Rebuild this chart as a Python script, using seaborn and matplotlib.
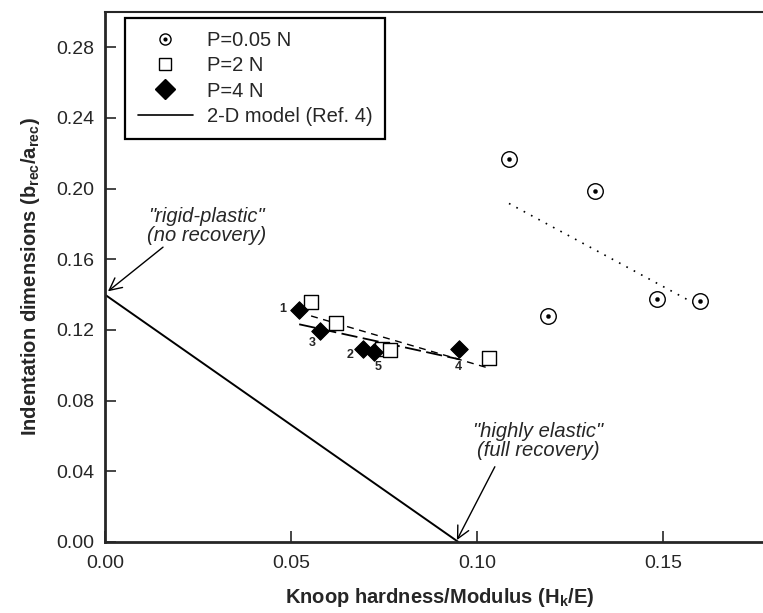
import numpy as np
import pandas as pd
import matplotlib
matplotlib.use("Agg")
import matplotlib.pyplot as plt
from matplotlib.lines import Line2D
from matplotlib.legend_handler import HandlerTuple
import seaborn as sns

# values
x_p005 = [0.1086, 0.1317, 0.1191, 0.1484, 0.1599]
y_p005 = [0.2168, 0.1986, 0.1277, 0.1373, 0.1362]

x_p2 = [0.0554, 0.0621, 0.0745, 0.0766, 0.1032]
y_p2 = [0.1356, 0.1237, 0.1095, 0.1084, 0.1039]

x_p4 = [0.0522, 0.0578, 0.0694, 0.0723, 0.0952]
y_p4 = [0.1311, 0.1197, 0.1095, 0.1073, 0.1090]
sample_ids = ["1", "3", "2", "5", "4"]

model_x = [0.0, 0.095]
model_y = [0.14, 0.0]

xticks = [0.00, 0.05, 0.10, 0.15]
yticks = [0.00, 0.04, 0.08, 0.12, 0.16, 0.20, 0.24, 0.28]

df005 = pd.DataFrame({"x": x_p005, "y": y_p005})
df2 = pd.DataFrame({"x": x_p2, "y": y_p2})
df4 = pd.DataFrame({"x": x_p4, "y": y_p4, "id": sample_ids})

sns.set_style("ticks")
plt.rcParams["font.family"] = ["Liberation Sans", "DejaVu Sans"]
plt.rcParams["mathtext.fontset"] = "custom"
plt.rcParams["mathtext.rm"] = "Liberation Sans:bold"
plt.rcParams["mathtext.it"] = "Liberation Sans:bold"
plt.rcParams["mathtext.bf"] = "Liberation Sans:bold"

fig = plt.figure(figsize=(7.63, 6.13), dpi=100)
# axes run past the right edge, like the cropped scan
ax = fig.add_axes([105 / 763, 1 - 542 / 613, 669.6 / 763, 530 / 613])

# trend lines
sns.regplot(data=df005, x="x", y="y", scatter=False, ci=None, ax=ax,
            line_kws=dict(color="black", lw=1.2, ls=(0, (1, 4))))
sns.regplot(data=df2, x="x", y="y", scatter=False, ci=None, ax=ax,
            line_kws=dict(color="black", lw=1.0, ls=(0, (5, 4))))
sns.regplot(data=df4, x="x", y="y", scatter=False, ci=None, ax=ax,
            line_kws=dict(color="black", lw=1.3, ls=(0, (9, 3))))

# 2-D model
sns.lineplot(x=model_x, y=model_y, color="black", lw=1.4, ax=ax)

# markers
sns.scatterplot(data=df005, x="x", y="y", marker="o", s=125, facecolor="white",
                edgecolor="black", linewidth=1.0, ax=ax, zorder=4)
sns.scatterplot(data=df005, x="x", y="y", marker="o", s=9, color="black",
                edgecolor="black", ax=ax, zorder=5)
sns.scatterplot(data=df2, x="x", y="y", marker="s", s=95, facecolor="white",
                edgecolor="black", linewidth=1.0, ax=ax, zorder=4)
sns.scatterplot(data=df4, x="x", y="y", marker="D", s=80, color="black",
                edgecolor="black", ax=ax, zorder=6)

# sample numbers beside the P=4 N points
offsets = {"1": (-16, 1), "3": (-8, -12), "2": (-13, -6), "5": (4, -15), "4": (-1, -18)}
for xi, yi, sid in zip(x_p4, y_p4, sample_ids):
    ax.annotate(sid, (xi, yi), xytext=offsets[sid], textcoords="offset pixels",
                ha="center", va="center", fontsize=9, fontweight="bold")

# annotations
arrow = dict(arrowstyle="->", color="black", lw=1.0, mutation_scale=22,
             shrinkA=0, shrinkB=0)
ax.annotate("", xy=(0.0008, 0.1419), xytext=(0.0156, 0.1669), arrowprops=arrow)
ax.text(0.0274, 0.179, '"rigid-plastic"\n(no recovery)', ha="center", va="center",
        fontsize=14.5, style="italic", linespacing=1.0)
ax.annotate("", xy=(0.0946, 0.0011), xytext=(0.1048, 0.0426), arrowprops=arrow)
ax.text(0.1164, 0.057, '"highly elastic"\n(full recovery)', ha="center", va="center",
        fontsize=14.5, style="italic", linespacing=1.0)

ax.set_xlim(0, 0.18)
ax.set_ylim(0, 0.30)
ax.set_xticks(xticks)
ax.set_xticklabels([f"{v:.2f}" for v in xticks])
ax.set_yticks(yticks)
ax.set_yticklabels([f"{v:.2f}" for v in yticks])
ax.tick_params(direction="in", length=8, width=1.2, labelsize=14)
ax.tick_params(axis="x", pad=9.5)
ax.tick_params(axis="y", pad=8)
ax.set_xlabel("Knoop hardness/Modulus (H$_k$/E)", fontsize=14.5, fontweight="bold",
              labelpad=10)
ax.set_ylabel("Indentation dimensions (b$_{rec}$/a$_{rec}$)", fontsize=14.5,
              fontweight="bold", labelpad=10)
for side in ["left", "bottom"]:
    ax.spines[side].set_linewidth(2.0)
ax.spines["top"].set_linewidth(1.5)
ax.spines["right"].set_visible(False)

# legend
h_circ = (Line2D([], [], ls="none", marker="o", ms=8, mfc="white", mec="black", mew=1.0),
          Line2D([], [], ls="none", marker="o", ms=2, color="black"))
h_sq = Line2D([], [], ls="none", marker="s", ms=8, mfc="white", mec="black", mew=1.0)
h_dia = Line2D([], [], ls="none", marker="D", ms=10, color="black")
h_line = Line2D([], [], color="black", lw=1.2)
leg = ax.legend([h_circ, h_sq, h_dia, h_line],
                ["P=0.05 N", "P=2 N", "P=4 N", "2-D model (Ref. 4)"],
                handler_map={tuple: HandlerTuple(ndivide=1, pad=0)},
                loc="upper left", bbox_to_anchor=(0.03, 0.988), fontsize=14.5,
                frameon=True, fancybox=False, edgecolor="black", framealpha=1,
                labelspacing=0.3, handlelength=2.7, handletextpad=0.7,
                borderpad=0.65, borderaxespad=0)
leg.get_frame().set_linewidth(1.6)

fig.savefig("out.png", dpi=100)
